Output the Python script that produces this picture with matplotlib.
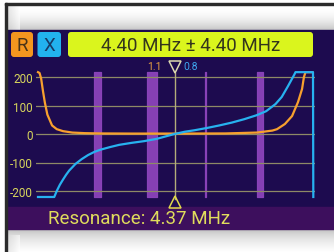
import numpy as np
import matplotlib
matplotlib.use("Agg")
import matplotlib.pyplot as plt
from matplotlib.patches import Rectangle, FancyBboxPatch

# ---------------- data ----------------
freq_x = [0.0, 0.52, 0.6, 0.7, 0.8, 0.9, 1.0, 1.2, 1.4, 1.6, 1.8, 2.0, 2.3, 2.6,
          3.0, 3.4, 3.8, 4.1, 4.37, 4.7, 5.0, 5.4, 5.8, 6.2, 6.6, 7.0, 7.3, 7.6,
          7.8, 8.0, 8.1, 8.2, 8.24, 8.8, 8.81]
react_x = [-221, -221, -200, -178, -160, -143, -128, -105, -88, -74, -63, -55, -46, -38,
           -31, -25, -17, -8, 0, 8, 13, 21, 30, 40, 52, 66, 80, 105,
           130, 168, 188, 208, 217, 217, -221]

freq_r = [0.0, 0.05, 0.1, 0.16, 0.22, 0.3, 0.45, 0.6, 0.8, 1.1, 1.5, 2.0, 3.0, 4.37,
          6.0, 7.0, 7.5, 7.65, 7.9, 8.13, 8.32, 8.45, 8.51, 8.56, 8.78]
resist_r = [217, 214, 195, 150, 110, 68, 30, 17, 10, 5, 3, 2, 1.5, 1.5,
            2, 5, 12, 17, 35, 63, 112, 158, 200, 217, 217]

band_lo = [1.8, 3.5, 5.3515, 7.0]
band_hi = [2.0, 3.8, 5.3665, 7.2]

y_ticks = [-200, -100, 0, 100, 200]
y_tick_labels = ["-200", "-100", "0", "100", "200"]

center_mhz = 4.40
span_mhz = 4.40
resonance_mhz = 4.37
swr_r = "1.1"
swr_x = "0.8"

# ---------------- figure ----------------
W, H = 334, 253
fig = plt.figure(figsize=(W / 100, H / 100), dpi=100)
fig.patch.set_facecolor("white")

bg = fig.add_axes([0, 0, 1, 1])
bg.set_xlim(0, W)
bg.set_ylim(H, 0)
bg.axis("off")

FONT = "Roboto"

# light top panel with gradient
grad_top = np.linspace(0, 1, 50).reshape(-1, 1)
top_cols = np.clip(1.0 - 0.22 * grad_top ** 2, 0, 1)
bg.imshow(np.dstack([top_cols] * 3), extent=(7, W, 31, 7), aspect="auto", zorder=0)
# left shadow on top panel
sh = np.linspace(0.82, 1.0, 30).reshape(1, -1)
bg.imshow(np.dstack([sh] * 3), extent=(7, 20, 31, 7), aspect="auto", zorder=0.5, alpha=0.6)

# bottom white area gradient
grad_b = np.linspace(0, 1, 50).reshape(-1, 1)
bcols = np.clip(0.70 + 0.30 * np.sqrt(grad_b), 0, 1)
bg.imshow(np.dstack([bcols] * 3), extent=(7, W, H, 230), aspect="auto", zorder=0)
sh2 = np.linspace(0.85, 1.0, 30).reshape(1, -1)
bg.imshow(np.dstack([sh2] * 3), extent=(7, 20, H, 236), aspect="auto", zorder=0.5, alpha=0.6)

# dark borders
bg.add_patch(Rectangle((5, 4), W - 5, 2.2, color="#2b2b2b", zorder=3))
bg.add_patch(Rectangle((5, 4), 2.2, H - 4, color="#2b2b2b", zorder=3))

# navy screen
bg.add_patch(Rectangle((7.2, 31), W - 7.2, 178, color="#1d0b4f", zorder=1))
# purple status bar
bg.add_patch(Rectangle((7.2, 208), W - 7.2, 22, color="#3d0f5d", zorder=1))

# R / X buttons and header box
bg.add_patch(FancyBboxPatch((11, 33), 22, 25, boxstyle="round,pad=0,rounding_size=3",
                            fc="#f4961f", ec="none", zorder=2))
bg.add_patch(FancyBboxPatch((37.5, 33), 23.5, 25, boxstyle="round,pad=0,rounding_size=3",
                            fc="#22b2ee", ec="none", zorder=2))
bg.add_patch(FancyBboxPatch((68, 33), 245, 25, boxstyle="round,pad=0,rounding_size=3",
                            fc="#daf51d", ec="none", zorder=2))
bg.text(22, 46, "R", fontsize=13.5, family=FONT, color="#4a3418", ha="center", va="center", zorder=3)
bg.text(49, 46, "X", fontsize=13.5, family=FONT, color="#173a66", ha="center", va="center", zorder=3)
bg.text(190.5, 46, f"{center_mhz:.2f} MHz \u00b1 {span_mhz:.2f} MHz", fontsize=13.5, family=FONT,
        color="#34361c", ha="center", va="center", zorder=3)

bg.text(48, 219.5, f"Resonance: {resonance_mhz:.2f} MHz", fontsize=13.5, family=FONT,
        color="#e0dc5c", ha="left", va="center", zorder=3)

# ---------------- chart axes ----------------
# pixel mapping: f -> 38 + 31.25 f ; v -> 135 - 0.285 v
x0_px, x1_px = 36, 315
f0 = (x0_px - 38) / 31.25
f1 = (x1_px - 38) / 31.25
ymin, ymax = -250, 250
ytop_px = 135 - 0.285 * ymax
ybot_px = 135 - 0.285 * ymin
ax = fig.add_axes([x0_px / W, (H - ybot_px) / H, (x1_px - x0_px) / W, (ybot_px - ytop_px) / H])
ax.set_xlim(f0, f1)
ax.set_ylim(ymin, ymax)
ax.patch.set_alpha(0)
for s in ax.spines.values():
    s.set_visible(False)
ax.set_xticks([])
ax.set_yticks(y_ticks)
ax.set_yticklabels(y_tick_labels, fontsize=8.5, family=FONT, color="#d8d65c")
ax.tick_params(axis="y", length=0, pad=2.2)
ax.grid(axis="y", color="#8e8a66", linewidth=0.9, zorder=2)
ax.set_axisbelow(False)

band_col = "#8f45bd"
for lo, hi in zip(band_lo, band_hi):
    ax.fill_between([lo, hi], -221, 217, color=band_col, ec=band_col, lw=0.9, alpha=0.92, zorder=1)

# resonance marker line and triangles
ax.plot([resonance_mhz, resonance_mhz], [214, -228], color="#b3ad7a", lw=1.0, zorder=3, clip_on=False)
ax.plot([resonance_mhz], [236], marker="v", ms=8, mfc="none", mec="#dcd9b0", mew=1.1,
        clip_on=False, zorder=4)
ax.plot([resonance_mhz], [-240], marker="^", ms=8, mfc="none", mec="#e0d84a", mew=1.1,
        clip_on=False, zorder=4)
ax.text(3.97, 237, swr_r, fontsize=7.5, family=FONT, color="#e8a040", ha="right", va="center",
        clip_on=False)
ax.text(4.64, 237, swr_x, fontsize=7.5, family=FONT, color="#3fa6f0", ha="left", va="center",
        clip_on=False)

ax.plot(freq_r, resist_r, color="#f7a02e", lw=1.6, zorder=5, clip_on=False, solid_joinstyle="round")
ax.plot(freq_x, react_x, color="#27b2f0", lw=1.6, zorder=6, clip_on=False, solid_joinstyle="round")

fig.savefig("out.png", dpi=100)
